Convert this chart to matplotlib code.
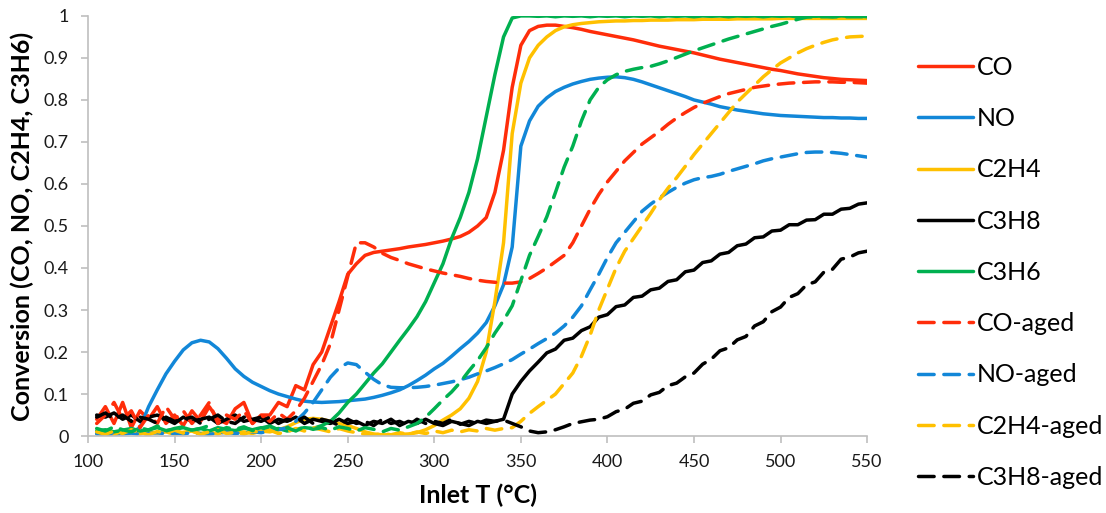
import numpy as np
import matplotlib
matplotlib.use("Agg")
import matplotlib.pyplot as plt
from matplotlib.ticker import FuncFormatter

plt.rcParams['font.family'] = ['Lato', 'DejaVu Sans']

# inlet temperature grid, 5 degC steps
T = np.arange(105, 551, 5)

CO = [0.04, 0.07, 0.03, 0.08, 0.02, 0.06, 0.04, 0.07, 0.03, 0.05,
      0.025, 0.06, 0.035, 0.07, 0.04, 0.03, 0.065, 0.08, 0.03, 0.05,
      0.05, 0.08, 0.07, 0.12, 0.11, 0.17, 0.2, 0.26, 0.32, 0.385,
      0.41, 0.43, 0.437, 0.44, 0.443, 0.446, 0.45, 0.453, 0.456, 0.46,
      0.464, 0.469, 0.475, 0.485, 0.5, 0.52, 0.58, 0.68, 0.83, 0.93,
      0.965, 0.975, 0.978, 0.978, 0.975, 0.972, 0.968, 0.963, 0.959, 0.955,
      0.951, 0.947, 0.943, 0.938, 0.933, 0.928, 0.924, 0.92, 0.916, 0.912,
      0.907, 0.902, 0.897, 0.893, 0.889, 0.885, 0.881, 0.877, 0.873, 0.87,
      0.866, 0.862, 0.859, 0.856, 0.853, 0.851, 0.849, 0.848, 0.847, 0.846]

NO = [0.005, 0.005, 0.004, 0.006, 0.008, 0.02, 0.07, 0.11, 0.148, 0.178,
      0.205, 0.222, 0.228, 0.224, 0.208, 0.185, 0.16, 0.142, 0.128, 0.118,
      0.108, 0.1, 0.094, 0.088, 0.083, 0.081, 0.08, 0.081, 0.082, 0.084,
      0.086, 0.088, 0.092, 0.097, 0.103, 0.11, 0.12, 0.132, 0.145, 0.16,
      0.173, 0.19, 0.208, 0.225, 0.245, 0.27, 0.31, 0.36, 0.45, 0.69,
      0.75, 0.785, 0.805, 0.82, 0.83, 0.838, 0.844, 0.849, 0.852, 0.854,
      0.855, 0.853, 0.849, 0.843, 0.836, 0.829, 0.822, 0.815, 0.808, 0.8,
      0.795, 0.79, 0.784, 0.78, 0.776, 0.773, 0.77, 0.767, 0.765, 0.763,
      0.762, 0.761, 0.76, 0.759, 0.758, 0.758, 0.757, 0.757, 0.756, 0.756]

C2H4 = [0.006, 0.01, 0.004, 0.012, 0.008, 0.005, 0.011, 0.007, 0.01, 0.004,
        0.009, 0.012, 0.006, 0.01, 0.005, 0.012, 0.008, 0.01, 0.006, 0.012,
        0.01, 0.015, 0.022, 0.032, 0.04, 0.042, 0.04, 0.035, 0.03, 0.025,
        0.018, 0.01, 0.005, 0.003, 0.003, 0.004, 0.005, 0.008, 0.015, 0.025,
        0.038, 0.05, 0.065, 0.09, 0.13, 0.2, 0.32, 0.46, 0.72, 0.84,
        0.9, 0.93, 0.95, 0.965, 0.974, 0.979, 0.982, 0.984, 0.986, 0.987,
        0.988, 0.988, 0.989, 0.989, 0.99, 0.99, 0.99, 0.991, 0.991, 0.991,
        0.992, 0.992, 0.992, 0.992, 0.993, 0.993, 0.993, 0.993, 0.993, 0.994,
        0.994, 0.994, 0.994, 0.994, 0.994, 0.994, 0.994, 0.994, 0.994, 0.994]

C3H8 = [0.05, 0.045, 0.055, 0.04, 0.05, 0.035, 0.045, 0.05, 0.04, 0.03,
        0.045, 0.035, 0.04, 0.045, 0.03, 0.04, 0.05, 0.035, 0.04, 0.045,
        0.03, 0.04, 0.035, 0.045, 0.03, 0.04, 0.035, 0.03, 0.04, 0.03,
        0.035, 0.025, 0.035, 0.03, 0.04, 0.025, 0.035, 0.03, 0.04, 0.03,
        0.025, 0.035, 0.03, 0.025, 0.035, 0.03, 0.035, 0.04, 0.1, 0.13,
        0.155, 0.176, 0.198, 0.207, 0.228, 0.233, 0.251, 0.26, 0.283, 0.289,
        0.308, 0.312, 0.33, 0.333, 0.348, 0.352, 0.368, 0.372, 0.391, 0.395,
        0.413, 0.417, 0.433, 0.437, 0.453, 0.457, 0.472, 0.474, 0.488, 0.49,
        0.503, 0.503, 0.514, 0.515, 0.528, 0.528, 0.54, 0.542, 0.552, 0.555]

C3H6 = [0.012, 0.015, 0.01, 0.014, 0.018, 0.012, 0.015, 0.02, 0.013, 0.016,
        0.02, 0.014, 0.018, 0.012, 0.02, 0.016, 0.013, 0.019, 0.015, 0.02,
        0.014, 0.018, 0.012, 0.016, 0.02, 0.018, 0.025, 0.035, 0.055, 0.08,
        0.1, 0.125, 0.15, 0.172, 0.2, 0.228, 0.255, 0.284, 0.32, 0.365,
        0.41, 0.47, 0.52, 0.58, 0.66, 0.76, 0.86, 0.95, 0.995, 1.0,
        1.0, 0.999, 1.0, 0.998, 1.0, 0.999, 1.0, 0.998, 1.0, 0.999,
        1.0, 0.998, 1.0, 0.999, 1.0, 0.998, 1.0, 0.999, 1.0, 0.998,
        1.0, 0.999, 1.0, 0.998, 1.0, 0.999, 1.0, 0.998, 1.0, 0.999,
        1.0, 0.998, 1.0, 0.999, 1.0, 0.998, 1.0, 0.999, 1.0, 0.998]

CO_aged = [0.03, 0.05, 0.08, 0.04, 0.06, 0.02, 0.05, 0.03, 0.07, 0.04,
           0.06, 0.03, 0.05, 0.08, 0.03, 0.05, 0.04, 0.06, 0.03, 0.05,
           0.035, 0.055, 0.04, 0.06, 0.09, 0.13, 0.17, 0.22, 0.3, 0.38,
           0.46, 0.46, 0.45, 0.435, 0.425, 0.418, 0.41, 0.404, 0.398, 0.393,
           0.388, 0.384, 0.38, 0.375, 0.371, 0.368, 0.366, 0.364, 0.364, 0.367,
           0.375, 0.387, 0.4, 0.415, 0.43, 0.46, 0.5, 0.54, 0.575, 0.605,
           0.63, 0.655, 0.675, 0.695, 0.71, 0.725, 0.742, 0.757, 0.77, 0.782,
           0.792, 0.8, 0.808, 0.815, 0.82, 0.825, 0.83, 0.833, 0.836, 0.838,
           0.84, 0.841, 0.842, 0.843, 0.843, 0.843, 0.842, 0.842, 0.841, 0.84]

NO_aged = [0.006, 0.004, 0.008, 0.005, 0.007, 0.004, 0.006, 0.008, 0.005, 0.007,
           0.005, 0.008, 0.006, 0.004, 0.007, 0.009, 0.006, 0.008, 0.01, 0.008,
           0.012, 0.015, 0.02, 0.035, 0.055, 0.08, 0.11, 0.14, 0.162, 0.174,
           0.17, 0.152, 0.135, 0.122, 0.116, 0.115, 0.115, 0.116, 0.118, 0.121,
           0.125, 0.129, 0.134, 0.14, 0.148, 0.155, 0.163, 0.172, 0.182, 0.195,
           0.207, 0.22, 0.232, 0.245, 0.262, 0.283, 0.31, 0.348, 0.385, 0.425,
           0.46, 0.485, 0.51, 0.535, 0.552, 0.567, 0.58, 0.592, 0.602, 0.61,
           0.615, 0.618, 0.623, 0.63, 0.636, 0.642, 0.648, 0.655, 0.66, 0.664,
           0.668, 0.672, 0.675, 0.676, 0.676, 0.675, 0.673, 0.67, 0.667, 0.664]

C2H4_aged = [0.01, 0.004, 0.012, 0.006, 0.015, 0.008, 0.003, 0.011, 0.006, 0.014,
             0.007, 0.012, 0.004, 0.01, 0.015, 0.006, 0.009, 0.004, 0.012, 0.008,
             0.014, 0.006, 0.01, 0.018, 0.012, 0.02, 0.015, 0.01, 0.018, 0.012,
             0.008, 0.004, 0.002, 0.006, 0.003, 0.008, 0.004, 0.01, 0.006, 0.012,
             0.008, 0.014, 0.01, 0.015, 0.012, 0.018, 0.014, 0.018, 0.02, 0.035,
             0.054, 0.07, 0.085, 0.1, 0.125, 0.15, 0.19, 0.24, 0.3, 0.35,
             0.4, 0.44, 0.47, 0.5, 0.53, 0.562, 0.59, 0.615, 0.642, 0.67,
             0.695, 0.72, 0.745, 0.77, 0.795, 0.815, 0.835, 0.855, 0.872, 0.888,
             0.9, 0.912, 0.922, 0.93, 0.937, 0.943, 0.947, 0.95, 0.951, 0.952]

C3H8_aged = [0.045, 0.055, 0.04, 0.05, 0.035, 0.045, 0.04, 0.03, 0.045, 0.035,
             0.04, 0.045, 0.03, 0.04, 0.05, 0.035, 0.03, 0.045, 0.04, 0.035,
             0.045, 0.03, 0.04, 0.035, 0.045, 0.03, 0.04, 0.035, 0.025, 0.04,
             0.03, 0.035, 0.025, 0.04, 0.03, 0.035, 0.025, 0.04, 0.03, 0.035,
             0.03, 0.04, 0.028, 0.035, 0.03, 0.038, 0.035, 0.038, 0.03, 0.022,
             0.012, 0.008, 0.01, 0.015, 0.022, 0.03, 0.034, 0.038, 0.04, 0.046,
             0.058, 0.064, 0.078, 0.083, 0.098, 0.104, 0.12, 0.126, 0.141, 0.15,
             0.171, 0.183, 0.203, 0.21, 0.229, 0.237, 0.262, 0.272, 0.296, 0.307,
             0.33, 0.339, 0.36, 0.367, 0.39, 0.397, 0.421, 0.426, 0.436, 0.44]

C3H6_aged = [0.018, 0.012, 0.022, 0.015, 0.01, 0.02, 0.014, 0.024, 0.012, 0.018,
             0.022, 0.014, 0.018, 0.025, 0.012, 0.02, 0.016, 0.022, 0.013, 0.019,
             0.024, 0.015, 0.02, 0.012, 0.022, 0.016, 0.02, 0.014, 0.022, 0.018,
             0.012, 0.02, 0.016, 0.01, 0.018, 0.014, 0.022, 0.03, 0.045, 0.065,
             0.086, 0.105, 0.128, 0.155, 0.18, 0.21, 0.245, 0.275, 0.31, 0.37,
             0.43, 0.475, 0.522, 0.58, 0.64, 0.69, 0.75, 0.8, 0.83, 0.848,
             0.86, 0.868, 0.873, 0.877, 0.88, 0.886, 0.893, 0.901, 0.909, 0.917,
             0.924, 0.931, 0.938, 0.945, 0.951, 0.957, 0.963, 0.969, 0.975, 0.98,
             0.986, 0.992, 0.997, 0.998, 0.998, 0.998, 0.998, 0.998, 0.998, 0.998]

red = '#FF2D0A'
blue = '#1287D8'
yellow = '#FFC000'
black = '#000000'
green = '#00B050'

series = [
    ('CO', CO, red, '-'),
    ('NO', NO, blue, '-'),
    ('C2H4', C2H4, yellow, '-'),
    ('C3H8', C3H8, black, '-'),
    ('C3H6', C3H6, green, '-'),
    ('CO-aged', CO_aged, red, '--'),
    ('NO-aged', NO_aged, blue, '--'),
    ('C2H4-aged', C2H4_aged, yellow, '--'),
    ('C3H8-aged', C3H8_aged, black, '--'),
    ('_C3H6-aged', C3H6_aged, green, '--'),
]

fig = plt.figure(figsize=(11.06, 5.13), dpi=100)
ax = fig.add_axes([0.0796, 0.150, 0.7044, 0.819])

handles = []
for name, vals, col, ls in series:
    ln, = ax.plot(T, vals, color=col, lw=2.5, ls=ls, solid_capstyle='round',
                  dash_capstyle='round')
    if ls == '--':
        ln.set_dashes((4.5, 2.8))
    ln.set_label(name)
    if not name.startswith('_'):
        handles.append(ln)

ax.set_xlim(100, 550)
ax.set_ylim(0, 1)
ax.set_xticks(np.arange(100, 551, 50))
ax.set_yticks(np.arange(0, 1.01, 0.1))
ax.yaxis.set_major_formatter(FuncFormatter(lambda v, p: '%g' % round(v, 1)))

for s in ['top', 'right']:
    ax.spines[s].set_visible(False)
for s in ['left', 'bottom']:
    ax.spines[s].set_color('#BFBFBF')
    ax.spines[s].set_linewidth(1.2)
ax.tick_params(axis='both', direction='out', length=5, width=1.2,
               color='#BFBFBF', labelsize=13, labelcolor='#1a1a1a')
ax.tick_params(axis='x', pad=8)
ax.tick_params(axis='y', pad=9)

ax.set_xlabel('Inlet T (°C)', fontsize=18, fontweight='bold', labelpad=10)
ax.set_ylabel('Conversion (CO, NO, C2H4, C3H6)', fontsize=18,
              fontweight='bold', labelpad=7)

fig.legend(handles=handles, loc='upper left', bbox_to_anchor=(0.830, 0.891),
           frameon=False, fontsize=18, handlelength=2.2, handletextpad=0.16,
           labelspacing=1.13, borderpad=0, borderaxespad=0)

fig.savefig('out.png', dpi=100)
